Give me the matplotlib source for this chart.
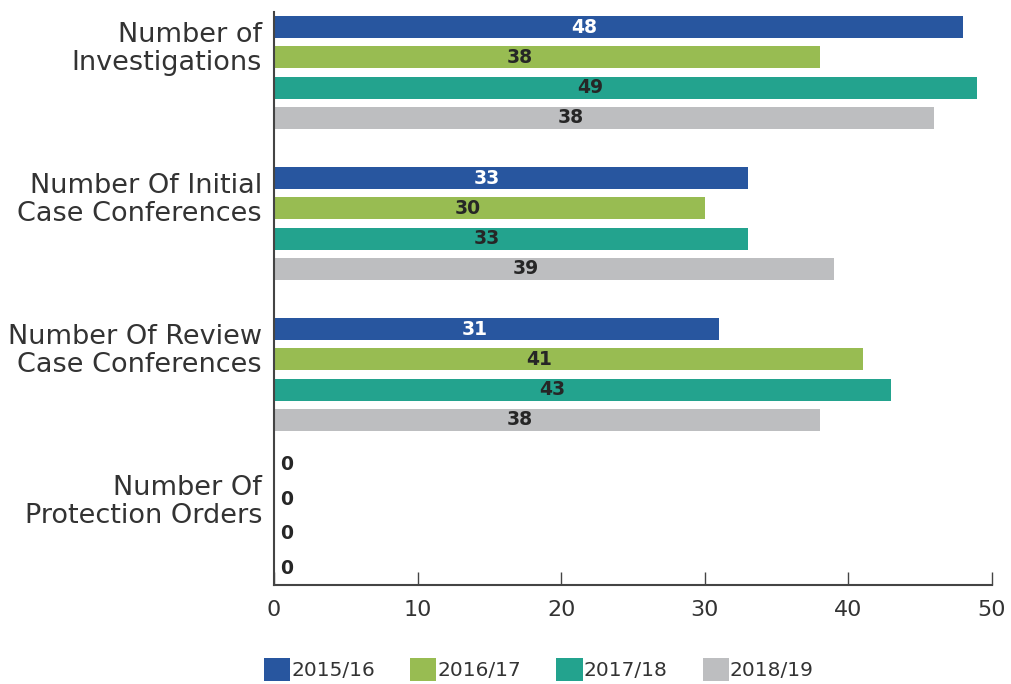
import matplotlib
matplotlib.use("Agg")
import numpy as np
from matplotlib import pyplot as plt
from matplotlib.patches import Patch

# data
categories = [
    "Number of\nInvestigations",
    "Number Of Initial\nCase Conferences",
    "Number Of Review\nCase Conferences",
    "Number Of\nProtection Orders",
]
years = ["2015/16", "2016/17", "2017/18", "2018/19"]
colors = ["#28569f", "#98bc52", "#23a38e", "#bdbec0"]

# bar lengths as drawn
vals_2015 = [48, 33, 31, 0]
vals_2016 = [38, 30, 41, 0]
vals_2017 = [49, 33, 43, 0]
vals_2018 = [46, 39, 38, 0]
# data labels as printed (the grey investigations bar is labelled 38)
labels_2015 = ["48", "33", "31", "0"]
labels_2016 = ["38", "30", "41", "0"]
labels_2017 = ["49", "33", "43", "0"]
labels_2018 = ["38", "39", "38", "0"]
label_colors = ["white", "#262626", "#262626", "#262626"]

series = [vals_2015, vals_2016, vals_2017, vals_2018]
series_labels = [labels_2015, labels_2016, labels_2017, labels_2018]

plt.rcParams["font.family"] = ["DejaVu Sans"]
text_col = "#333333"
axis_col = "#444444"

fig = plt.figure(figsize=(10.11, 6.84), dpi=100)
ax = fig.add_axes([0.271, 0.1447, 0.710, 0.8377])

y = np.arange(len(categories))
offsets = [-0.3, -0.1, 0.1, 0.3]
bar_h = 0.146

for j, (vals, labs) in enumerate(zip(series, series_labels)):
    ypos = y + offsets[j]
    ax.barh(ypos, vals, height=bar_h, color=colors[j], linewidth=0)
    for yy, v, lab in zip(ypos, vals, labs):
        if v == 0:
            # zero labels sit just right of the axis, spread a bit wider
            ax.text(0.9, yy + offsets[j] * 0.14 - 0.06, lab, ha="center",
                    va="center", fontsize=13.5, fontweight="bold", color="#262626")
        else:
            ax.text(v * 0.45, yy, lab, ha="center", va="center", fontsize=13.5,
                    fontweight="bold", color=label_colors[j])

ax.set_xlim(0, 50)
ax.set_ylim(3.394, -0.40)
ax.set_xticks(np.arange(0, 51, 10))
ax.tick_params(axis="x", direction="in", length=9.5, width=1, color=axis_col,
               labelsize=16, labelcolor=text_col, pad=11)
ax.set_yticks(y - 0.18)
ax.set_yticklabels(categories, fontsize=19.5, color=text_col, ha="right",
                   linespacing=1.1)
ax.tick_params(axis="y", length=0, pad=8.6)

for side in ["top", "right"]:
    ax.spines[side].set_visible(False)
for side in ["left", "bottom"]:
    ax.spines[side].set_color(axis_col)
    ax.spines[side].set_linewidth(1.5)

handles = [Patch(facecolor=c, edgecolor="none") for c in colors]
leg = fig.legend(handles, years, loc="center", bbox_to_anchor=(0.533, 0.021),
                 ncol=4, frameon=False, fontsize=14.5, handlelength=1.3,
                 handleheight=1.4, handletextpad=0.05, columnspacing=1.75,
                 borderpad=0)
for t in leg.get_texts():
    t.set_color(text_col)

fig.savefig("out.png", dpi=100)
